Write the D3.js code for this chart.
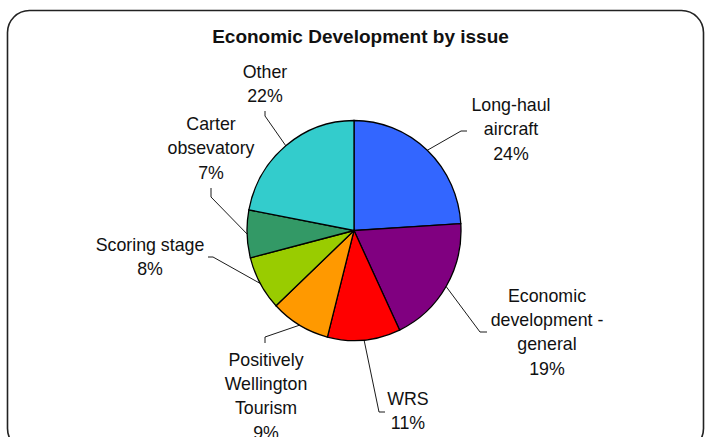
<!DOCTYPE html>
<html>
<head>
<meta charset="utf-8">
<script src="https://cdn.jsdelivr.net/npm/d3@7"></script>
<style>
    body { margin: 0; background: #fff; }
    svg { display: block; font-family: "Liberation Sans", Arial, sans-serif; }
</style>
</head>
<body>
<script>
// chart data
const categories = ['Long-haul aircraft', 'Economic development - general', 'WRS',
    'Positively Wellington Tourism', 'Scoring stage', 'Carter obsevatory', 'Other'];
const labelLines = [['Long-haul', 'aircraft'], ['Economic', 'development -', 'general'], ['WRS'],
    ['Positively', 'Wellington', 'Tourism'], ['Scoring stage'], ['Carter', 'obsevatory'], ['Other']];
const percents = [24, 19, 11, 9, 8, 7, 22];
const colors = ['#3366FF', '#800080', '#FF0000', '#FF9900', '#99CC00', '#339966', '#33CCCC'];

// label placement: first line centre, leader elbow, leader end
const labelLayout = [
    {x: 511, y: 111, elbow: [461, 131], end: [467, 131]},
    {x: 547, y: 301.5, elbow: [480, 332], end: [487, 332]},
    {x: 408, y: 405, elbow: [379, 412], end: [385, 412]},
    {x: 266, y: 365.5, elbow: [265, 337], end: [265, 343]},
    {x: 150, y: 251, elbow: [213, 257], end: [208, 257]},
    {x: 211, y: 130, elbow: [211, 197], end: [211, 188]},
    {x: 265, y: 77.5, elbow: [265, 116], end: [265, 111]}
];

const width = 707;
const height = 437;
const cx = 354, cy = 230.5, rx = 107, ry = 110;
const lineGap = 24.4;

const svg = d3.select('body')
    .append('svg')
    .attr('width', width)
    .attr('height', height);

svg.append('rect')
    .attr('x', 7.5)
    .attr('y', 10.5)
    .attr('width', 696)
    .attr('height', 440)
    .attr('rx', 22)
    .attr('fill', '#fff')
    .attr('stroke', '#222')
    .attr('stroke-width', 1.6);

svg.append('text')
    .attr('x', 360.5)
    .attr('y', 43)
    .attr('text-anchor', 'middle')
    .attr('font-size', 19)
    .attr('font-weight', 'bold')
    .attr('fill', '#111')
    .text('Economic Development by issue');

const slices = d3.pie().sort(null).value(d => d)(percents);
const arc = d3.arc().innerRadius(0).outerRadius(rx);

svg.append('g')
    .attr('transform', `translate(${cx},${cy}) scale(1,${ry / rx})`)
    .selectAll('path')
    .data(slices)
    .join('path')
    .attr('d', arc)
    .attr('fill', (d, i) => colors[i])
    .attr('stroke', '#000')
    .attr('stroke-width', 1.3);

// leader lines from the slice edge to the label
slices.forEach((s, i) =>
{
    const a = (s.startAngle + s.endAngle) / 2;
    const p = [cx + rx * Math.sin(a), cy - ry * Math.cos(a)];
    const lay = labelLayout[i];
    svg.append('path')
        .attr('d', d3.line()([p, lay.elbow, lay.end]))
        .attr('fill', 'none')
        .attr('stroke', '#000')
        .attr('stroke-width', 0.9);

    const t = svg.append('text')
        .attr('text-anchor', 'middle')
        .attr('font-size', 17.8)
        .attr('fill', '#111');
    labelLines[i].concat([percents[i] + '%']).forEach((line, j) =>
    {
        t.append('tspan')
            .attr('x', lay.x)
            .attr('y', lay.y + j * lineGap)
            .text(line);
    });
});
</script>
</body>
</html>
